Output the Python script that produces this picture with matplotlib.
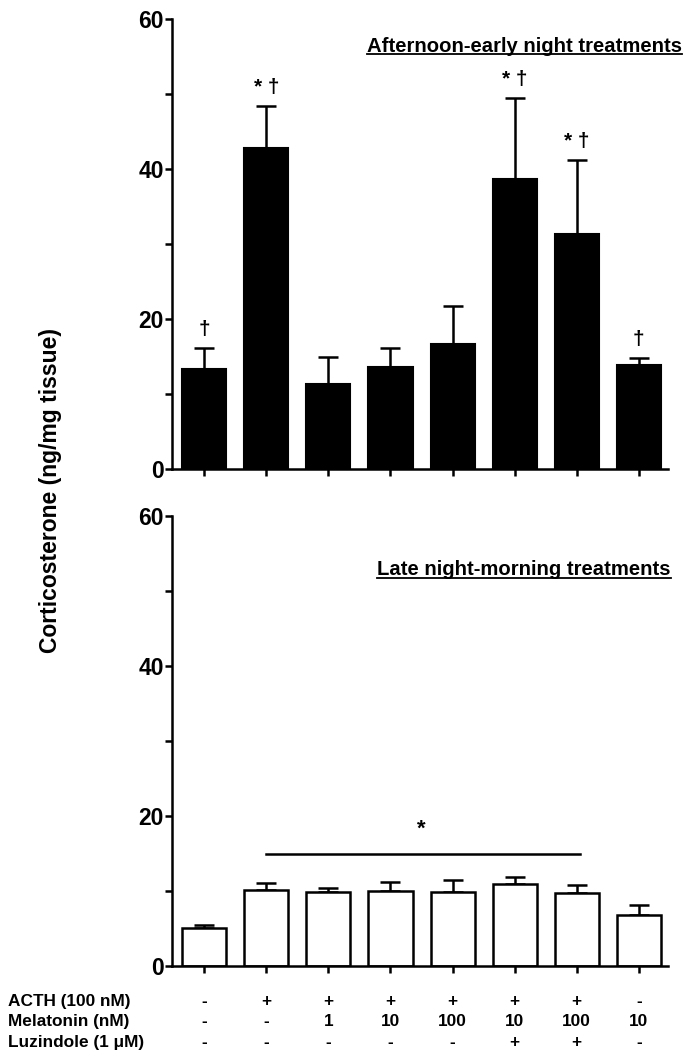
import numpy as np
import matplotlib.pyplot as plt
import matplotlib.transforms as mtransforms

plt.rcParams['font.family'] = ['Liberation Sans', 'DejaVu Sans']
plt.rcParams['font.weight'] = 'bold'

# data
groups = np.arange(8)
pm_mean = [13.3, 42.8, 11.3, 13.6, 16.7, 38.7, 31.3, 13.9]
pm_err = [2.9, 5.6, 3.7, 2.6, 5.0, 10.8, 9.9, 0.9]
pm_marks = ['\u2020', '* \u2020', '', '', '', '* \u2020', '* \u2020', '\u2020']
am_mean = [5.0, 10.1, 9.8, 10.0, 9.9, 10.9, 9.7, 6.8]
am_err = [0.5, 0.9, 0.6, 1.2, 1.6, 1.0, 1.1, 1.3]

row_names = ['ACTH (100 nM)', 'Melatonin (nM)', 'Luzindole (1 \u03bcM)']
acth = ['-', '+', '+', '+', '+', '+', '+', '-']
melatonin = ['-', '-', '1', '10', '100', '10', '100', '10']
luzindole = ['-', '-', '-', '-', '-', '+', '+', '-']

fig = plt.figure(figsize=(6.85, 10.6), dpi=100)
ax1 = fig.add_axes([0.2511, 0.5575, 0.724, 0.4245])
ax2 = fig.add_axes([0.2511, 0.0887, 0.724, 0.4245])

lw = 1.8


def style_axis(ax):
    for s in ['top', 'right']:
        ax.spines[s].set_visible(False)
    for s in ['left', 'bottom']:
        ax.spines[s].set_linewidth(lw)
    ax.set_xlim(-0.52, 7.47)
    ax.set_ylim(0, 60)
    ax.set_yticks([0, 20, 40, 60])
    ax.set_yticks([10, 30, 50], minor=True)
    ax.set_xticks(groups)
    ax.set_xticklabels([])
    ax.tick_params(axis='both', which='both', direction='out', width=lw, length=5)
    ax.tick_params(axis='y', labelsize=16.5, pad=1)
    for t in ax.get_yticklabels():
        t.set_fontweight('bold')


def underlined(ax, x, y, label):
    t = ax.text(x, y, label, transform=ax.transAxes, ha='right', va='baseline',
                fontsize=14.6, fontweight='bold')
    fig.canvas.draw()
    bb = t.get_window_extent()
    base = ax.transAxes.transform((x, y))[1] - 2.5
    inv = fig.transFigure.inverted()
    x0, yy = inv.transform((bb.x0, base))
    x1, _ = inv.transform((bb.x1, base))
    fig.add_artist(plt.Line2D([x0, x1], [yy, yy], color='black', lw=1.3))


# afternoon / early night
ax1.bar(groups, pm_mean, width=0.71, color='black', edgecolor='black', linewidth=1.5, zorder=2)
ax1.errorbar(groups, pm_mean, yerr=[np.zeros(8), pm_err], fmt='none', ecolor='black',
             elinewidth=lw, capsize=7, capthick=lw, zorder=1)
for x, m, e, lab in zip(groups, pm_mean, pm_err, pm_marks):
    if lab:
        ax1.text(x, m + e + 1.2, lab, ha='center', va='bottom', fontsize=15, fontweight='bold')
style_axis(ax1)

# late night / morning
ax2.bar(groups, am_mean, width=0.71, color='white', edgecolor='black', linewidth=lw, zorder=2)
ax2.errorbar(groups, am_mean, yerr=[np.zeros(8), am_err], fmt='none', ecolor='black',
             elinewidth=lw, capsize=7, capthick=lw, zorder=1)
ax2.plot([1, 6.05], [14.9, 14.9], color='black', lw=lw)
ax2.text(3.5, 16.8, '*', ha='center', va='bottom', fontsize=16, fontweight='bold')
style_axis(ax2)

underlined(ax1, 1.028, 0.927, 'Afternoon-early night treatments')
underlined(ax2, 1.006, 0.868, 'Late night-morning treatments')

fig.text(0.074, 0.537, 'Corticosterone (ng/mg tissue)', rotation=90, ha='center',
         va='center', fontsize=16.5, fontweight='bold')

# treatment table under the bottom axis
trans = mtransforms.blended_transform_factory(ax2.transData, fig.transFigure)
row_y = [0.0555, 0.0362, 0.0165]
for name, vals, y in zip(row_names, [acth, melatonin, luzindole], row_y):
    fig.text(0.011, y, name, ha='left', va='center', fontsize=12.4, fontweight='bold')
    for x, v in zip(groups, vals):
        ax2.text(x, y, v, transform=trans, ha='center', va='center', fontsize=12.4,
                 fontweight='bold', clip_on=False)

fig.savefig('out.png', dpi=100)
